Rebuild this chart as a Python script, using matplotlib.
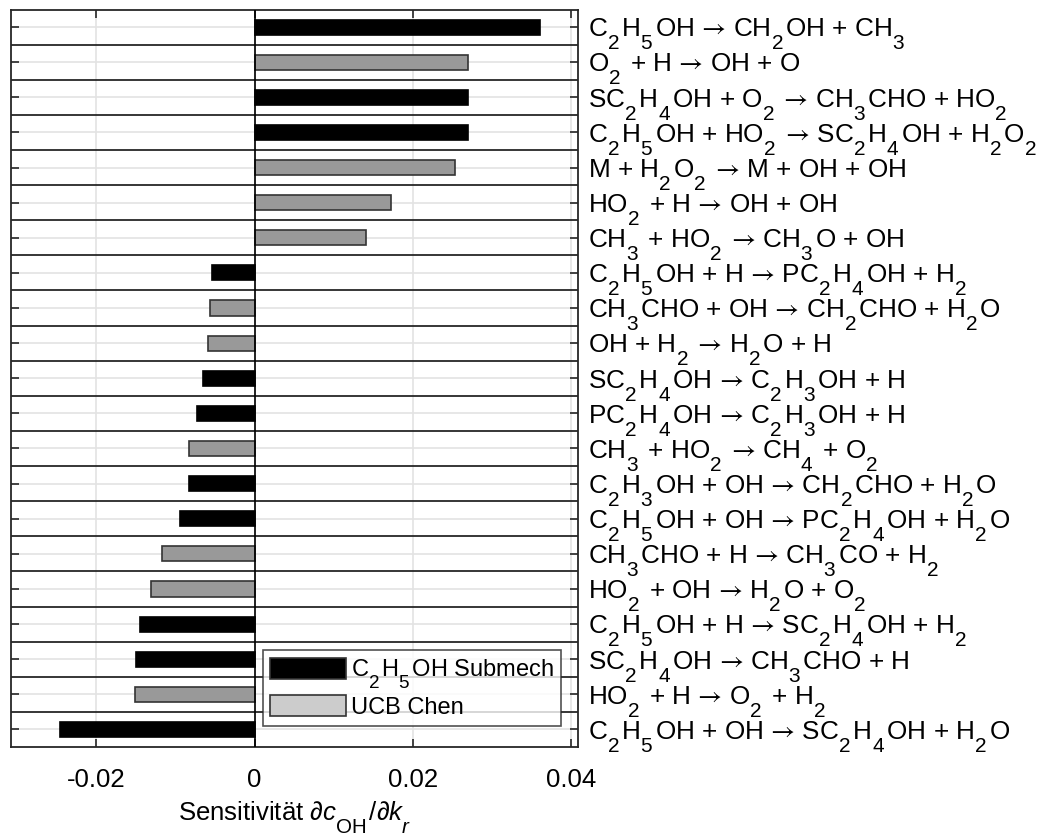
import matplotlib
matplotlib.use("Agg")
import matplotlib.pyplot as plt
import matplotlib._mathtext as _mt
from matplotlib.patches import Patch
import numpy as np

# MATLAB-like subscripts: larger and lower
_mt.SHRINK_FACTOR = 0.8
_mt.FontConstantsBase.sub1 = 0.95
_mt.FontConstantsBase.subdrop = 0.95
_mt.FontConstantsBase.script_space = 0.2

plt.rcParams['font.family'] = ['Liberation Sans', 'DejaVu Sans']
plt.rcParams['mathtext.fontset'] = 'custom'
plt.rcParams['mathtext.rm'] = 'Liberation Sans'
plt.rcParams['mathtext.it'] = 'Liberation Sans:italic'
plt.rcParams['mathtext.bf'] = 'Liberation Sans:bold'
plt.rcParams['mathtext.sf'] = 'STIXGeneral'
plt.rcParams['mathtext.fallback'] = 'stixsans'

A = r'$\mathsf{→}$'
reactions = [
    'C$_2$H$_5$OH ' + A + ' CH$_2$OH + CH$_3$',
    'O$_2$ + H ' + A + ' OH + O',
    'SC$_2$H$_4$OH + O$_2$ ' + A + ' CH$_3$CHO + HO$_2$',
    'C$_2$H$_5$OH + HO$_2$ ' + A + ' SC$_2$H$_4$OH + H$_2$O$_2$',
    'M + H$_2$O$_2$ ' + A + ' M + OH + OH',
    'HO$_2$ + H ' + A + ' OH + OH',
    'CH$_3$ + HO$_2$ ' + A + ' CH$_3$O + OH',
    'C$_2$H$_5$OH + H ' + A + ' PC$_2$H$_4$OH + H$_2$',
    'CH$_3$CHO + OH ' + A + ' CH$_2$CHO + H$_2$O',
    'OH + H$_2$ ' + A + ' H$_2$O + H',
    'SC$_2$H$_4$OH ' + A + ' C$_2$H$_3$OH + H',
    'PC$_2$H$_4$OH ' + A + ' C$_2$H$_3$OH + H',
    'CH$_3$ + HO$_2$ ' + A + ' CH$_4$ + O$_2$',
    'C$_2$H$_3$OH + OH ' + A + ' CH$_2$CHO + H$_2$O',
    'C$_2$H$_5$OH + OH ' + A + ' PC$_2$H$_4$OH + H$_2$O',
    'CH$_3$CHO + H ' + A + ' CH$_3$CO + H$_2$',
    'HO$_2$ + OH ' + A + ' H$_2$O + O$_2$',
    'C$_2$H$_5$OH + H ' + A + ' SC$_2$H$_4$OH + H$_2$',
    'SC$_2$H$_4$OH ' + A + ' CH$_3$CHO + H',
    'HO$_2$ + H ' + A + ' O$_2$ + H$_2$',
    'C$_2$H$_5$OH + OH ' + A + ' SC$_2$H$_4$OH + H$_2$O',
]
sensitivity = [0.0361, 0.02705, 0.0270, 0.0270, 0.0253, 0.0173, 0.0141,
               -0.00544, -0.00565, -0.00586, -0.00658, -0.00722, -0.00823, -0.0083,
               -0.00944, -0.01172, -0.01311, -0.01447, -0.01497, -0.01514, -0.0246]
mechanism = ['sub', 'ucb', 'sub', 'sub', 'ucb', 'ucb', 'ucb',
             'sub', 'ucb', 'ucb', 'sub', 'sub', 'ucb', 'sub',
             'sub', 'ucb', 'ucb', 'sub', 'sub', 'ucb', 'sub']
series_names = {'sub': r'C$_2$H$_5$OH Submech', 'ucb': 'UCB Chen'}
xtick_vals = [-0.02, 0, 0.02, 0.04]
xtick_labels = ['-0.02', '0', '0.02', '0.04']

fill = {'sub': '#000000', 'ucb': '#999999'}
edge = {'sub': '#000000', 'ucb': '#333333'}
legend_fill = {'sub': '#000000', 'ucb': '#cccccc'}

fig = plt.figure(figsize=(10.46, 8.40), dpi=100)
ax = fig.add_axes([11/1046, 1-747/840, (578-11)/1046, (747-9.5)/840])

n = len(reactions)
y = np.arange(n)
for i in range(n):
    m = mechanism[i]
    ax.barh(y[i], sensitivity[i], height=0.43, color=fill[m],
            edgecolor=edge[m], linewidth=1.2, zorder=3)

ax.set_xlim(-0.0308, 0.0409)
ax.set_ylim(n - 0.5, -0.5)

# grid
for xv in xtick_vals:
    ax.axvline(xv, color='#e3e3e3', lw=1.2, zorder=0)
for yv in y:
    ax.axhline(yv, color='#e3e3e3', lw=1.2, zorder=0)
for yb in np.arange(n - 1) + 0.5:
    ax.axhline(yb, color='#262626', lw=1.3, zorder=2)
ax.axvline(0, color='#000000', lw=1.2, zorder=4)

ax.set_xticks(xtick_vals)
ax.set_xticklabels(xtick_labels)
ax.set_yticks(y)
ax.set_yticklabels(reactions)
ax.yaxis.tick_right()
ax.tick_params(axis='y', which='both', left=True, right=True, labelleft=False,
               labelright=True, direction='in', length=6, width=1.2,
               labelsize=18.8, pad=7, color='#262626')
ax.tick_params(axis='x', top=True, bottom=True, direction='in', length=6,
               width=1.2, labelsize=18.5, pad=15, color='#262626')
for s in ax.spines.values():
    s.set_color('#262626')
    s.set_linewidth(1.3)

ax.set_xlabel(r'Sensitivität $\partial c_{\mathrm{OH}}/\partial k_r$', fontsize=18.5, labelpad=6)

handles = [Patch(facecolor=legend_fill[k], edgecolor='#333333', linewidth=1.2) for k in ['sub', 'ucb']]
leg = ax.legend(handles, [series_names['sub'], series_names['ucb']],
                loc='lower right', bbox_to_anchor=((561-11)/567, (747-726)/737.5),
                fontsize=17, frameon=True, fancybox=False, handlelength=3.22,
                handleheight=1.0, handletextpad=0.2, borderpad=0.3,
                labelspacing=0.2, borderaxespad=0.0)
leg.get_frame().set_edgecolor('#262626')
leg.get_frame().set_linewidth(1.2)
leg.set_zorder(10)

fig.savefig('out.png', dpi=100)
